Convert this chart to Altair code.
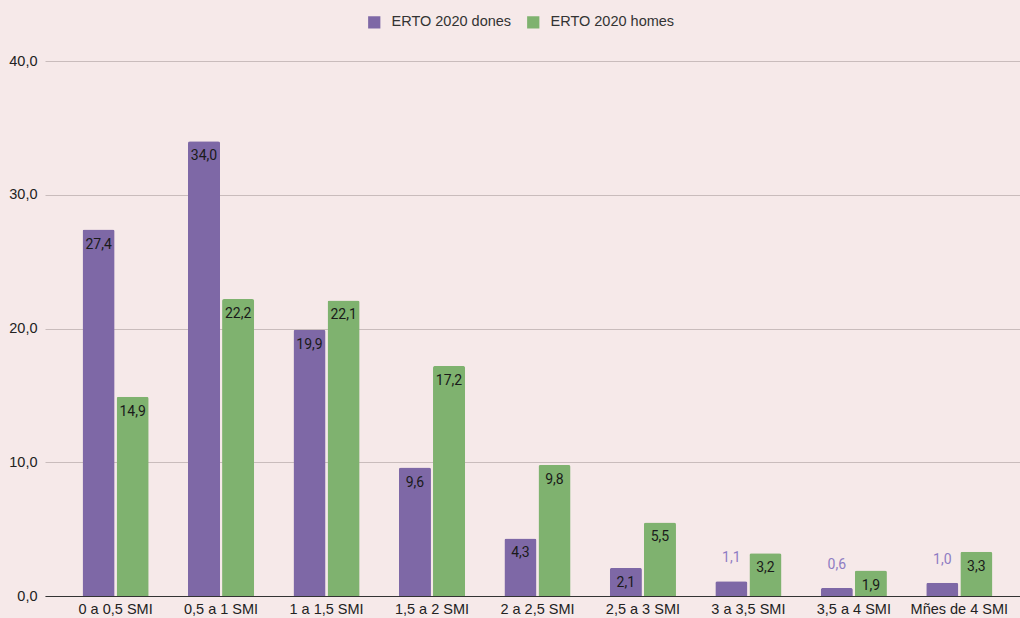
import altair as alt
import pandas as pd

# Income brackets (multiples of the minimum wage) and share of workers, %
categories = ["0 a 0,5 SMI", "0,5 a 1 SMI", "1 a 1,5 SMI", "1,5 a 2 SMI", "2 a 2,5 SMI",
              "2,5 a 3 SMI", "3 a 3,5 SMI", "3,5 a 4 SMI", "Mñes de 4 SMI"]
dones = [27.4, 34.0, 19.9, 9.6, 4.3, 2.1, 1.1, 0.6, 1.0]
homes = [14.9, 22.2, 22.1, 17.2, 9.8, 5.5, 3.2, 1.9, 3.3]
series = ["ERTO 2020 dones", "ERTO 2020 homes"]
colors = ["#7e68a6", "#7fb26f"]

rows = []
for c, d, h in zip(categories, dones, homes):
    rows.append({"cat": c, "serie": series[0], "value": d})
    rows.append({"cat": c, "serie": series[1], "value": h})
df = pd.DataFrame(rows)
df["label"] = df["value"].map(lambda v: f"{v:.1f}".replace(".", ","))

x = alt.X("cat:N", sort=categories, title=None,
          scale=alt.Scale(paddingInner=0.373, paddingOuter=0.309, align=0.576),
          axis=alt.Axis(labelAngle=0, labelFont="Liberation Sans", labelFontSize=14.5,
                        labelColor="#222222", domainColor="#333333", ticks=False,
                        labelPadding=6))
xoff = alt.XOffset("serie:N", sort=series, scale=alt.Scale(paddingInner=0.06))
y = alt.Y("value:Q", title=None,
          scale=alt.Scale(domain=[0, 40]),
          axis=alt.Axis(values=[0, 10, 20, 30, 40], domain=False, ticks=False,
                        labelExpr="replace(format(datum.value, '.1f'), '.', ',')",
                        labelFont="Liberation Sans", labelFontSize=14.5, labelColor="#222222",
                        labelPadding=8, gridColor="#c9bcbc", gridWidth=1))

base = alt.Chart(df).encode(x=x, xOffset=xoff)

bars = base.mark_bar(cornerRadiusTopLeft=2, cornerRadiusTopRight=2).encode(
    y=y,
    color=alt.Color("serie:N", sort=series, title=None,
                    scale=alt.Scale(domain=series, range=colors),
                    legend=alt.Legend(orient="none", legendX=322, legendY=-46,
                                      direction="horizontal", symbolType="square",
                                      symbolSize=150, symbolStrokeWidth=0,
                                      labelFont="Liberation Sans", labelFontSize=14.5,
                                      labelColor="#333333", columnPadding=14,
                                      labelOffset=10)),
)

inside = base.transform_filter("datum.value >= 1.5").mark_text(
    dy=15, font="Roboto", fontSize=14, color="#1a1a1a").encode(
    y=alt.Y("value:Q"), text="label:N")

outside = base.transform_filter("datum.value < 1.5").mark_text(
    dy=-23, font="Roboto", fontSize=14, color="#8e7cc3").encode(
    y=alt.Y("value:Q"), text="label:N")

chart = alt.layer(bars, inside, outside).properties(
    width=975, height=535,
    autosize=alt.AutoSizeParams(type="none"),
    padding={"left": 45, "top": 61, "right": 0, "bottom": 22},
    background="#f6e9e9",
).configure_view(stroke=None)

chart.save("out.html", embed_options={"renderer": "svg", "actions": False})
